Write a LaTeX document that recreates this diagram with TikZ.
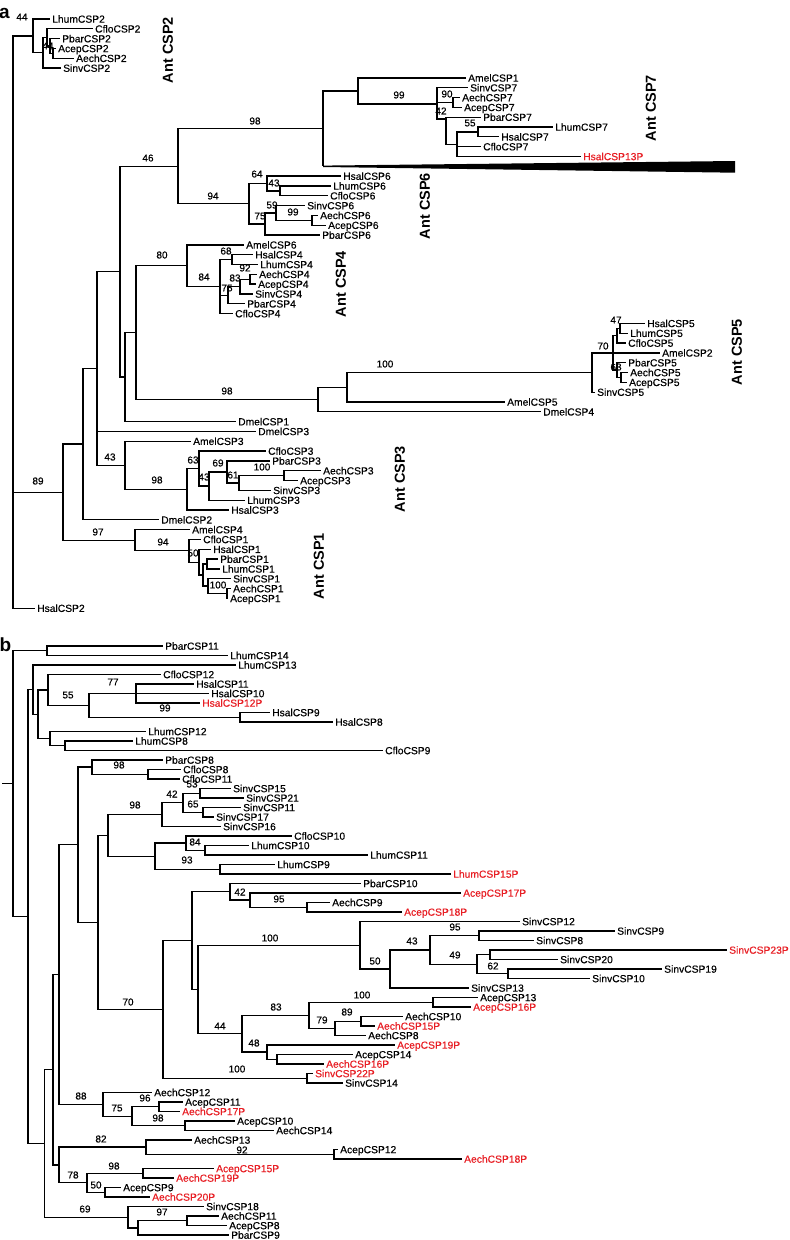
\documentclass[tikz,border=0pt]{standalone}
\usepackage{fontspec}
\newfontfamily\lf{Liberation Sans}
\newfontfamily\lfh[FakeBold=0.35]{Liberation Sans}
\usetikzlibrary{calc}
\definecolor{myred}{RGB}{232,30,36}
\newcommand\yA[1]{19+(#1-1)*9.82}
\newcommand\yB[1]{646+(#1-1)*9.5}
\newcommand\nd[4]{\path ($(#3)!0.5!(#4)$) coordinate (ndm); \path (#2,0) coordinate (ndx); \coordinate (#1) at (ndx |- ndm);}
\newcommand\br[2]{\foreach \chld in {#2}{\draw[brl] (#1) |- (\chld);}}
\begin{document}
\begin{tikzpicture}[x=1pt,y=-1pt,
  lbl/.style={anchor=west,font=\lfh\fontsize{10.3}{11}\selectfont,inner xsep=2pt,inner ysep=0pt,text height=7.4pt,text depth=0pt},
  lblr/.style={lbl,text=myred},
  bsv/.style={font=\lfh\fontsize{10}{11}\selectfont,inner sep=0pt},
  grp/.style={font=\lf\bfseries\fontsize{14.5}{16}\selectfont,rotate=90,inner sep=0pt},
  pan/.style={font=\lf\bfseries\fontsize{19}{20}\selectfont,anchor=base west,inner sep=0pt},
  brl/.style={line width=1.3pt}]
\fill[white] (0,0) rectangle (790,1240);
\useasboundingbox (0,0) rectangle (790,1240);
% ================= PART A =================
\node[pan] (pa) at (-1,18.3) {a};
\node[lbl] (LhumCSP2) at (50,{\yA{1}}) {LhumCSP2};
\node[lbl] (CfloCSP2) at (93,{\yA{2}}) {CfloCSP2};
\node[lbl] (PbarCSP2) at (60,{\yA{3}}) {PbarCSP2};
\node[lbl] (AcepCSP2) at (56,{\yA{4}}) {AcepCSP2};
\node[lbl] (AechCSP2) at (74,{\yA{5}}) {AechCSP2};
\node[lbl] (SinvCSP2) at (61,{\yA{6}}) {SinvCSP2};
\node[lbl] (AmelCSP1) at (466,{\yA{7}}) {AmelCSP1};
\node[lbl] (SinvCSP7) at (468,{\yA{8}}) {SinvCSP7};
\node[lbl] (AechCSP7) at (460,{\yA{9}}) {AechCSP7};
\node[lbl] (AcepCSP7) at (462,{\yA{10}}) {AcepCSP7};
\node[lbl] (PbarCSP7) at (481,{\yA{11}}) {PbarCSP7};
\node[lbl] (LhumCSP7) at (553,{\yA{12}}) {LhumCSP7};
\node[lbl] (HsalCSP7) at (499,{\yA{13}}) {HsalCSP7};
\node[lbl] (CfloCSP7) at (481,{\yA{14}}) {CfloCSP7};
\node[lblr] (HsalCSP13P) at (581,{\yA{15}}) {HsalCSP13P};
\coordinate (wedgeL) at (323,{\yA{16}});
\node[lbl] (HsalCSP6) at (341,{\yA{17}}) {HsalCSP6};
\node[lbl] (LhumCSP6) at (331,{\yA{18}}) {LhumCSP6};
\node[lbl] (CfloCSP6) at (328,{\yA{19}}) {CfloCSP6};
\node[lbl] (SinvCSP6) at (305,{\yA{20}}) {SinvCSP6};
\node[lbl] (AechCSP6) at (318,{\yA{21}}) {AechCSP6};
\node[lbl] (AcepCSP6) at (326,{\yA{22}}) {AcepCSP6};
\node[lbl] (PbarCSP6) at (320,{\yA{23}}) {PbarCSP6};
\node[lbl] (AmelCSP6) at (244,{\yA{24}}) {AmelCSP6};
\node[lbl] (HsalCSP4) at (253,{\yA{25}}) {HsalCSP4};
\node[lbl] (LhumCSP4) at (258,{\yA{26}}) {LhumCSP4};
\node[lbl] (AechCSP4) at (257,{\yA{27}}) {AechCSP4};
\node[lbl] (AcepCSP4) at (256,{\yA{28}}) {AcepCSP4};
\node[lbl] (SinvCSP4) at (253,{\yA{29}}) {SinvCSP4};
\node[lbl] (PbarCSP4) at (245,{\yA{30}}) {PbarCSP4};
\node[lbl] (CfloCSP4) at (233,{\yA{31}}) {CfloCSP4};
\node[lbl] (HsalCSP5) at (645,{\yA{32}}) {HsalCSP5};
\node[lbl] (LhumCSP5) at (628,{\yA{33}}) {LhumCSP5};
\node[lbl] (CfloCSP5) at (626,{\yA{34}}) {CfloCSP5};
\node[lbl] (AmelCSP2) at (660,{\yA{35}}) {AmelCSP2};
\node[lbl] (PbarCSP5) at (626,{\yA{36}}) {PbarCSP5};
\node[lbl] (AechCSP5) at (628,{\yA{37}}) {AechCSP5};
\node[lbl] (AcepCSP5) at (627,{\yA{38}}) {AcepCSP5};
\node[lbl] (SinvCSP5) at (595,{\yA{39}}) {SinvCSP5};
\node[lbl] (AmelCSP5) at (505,{\yA{40}}) {AmelCSP5};
\node[lbl] (DmelCSP4) at (541,{\yA{41}}) {DmelCSP4};
\node[lbl] (DmelCSP1) at (236,{\yA{42}}) {DmelCSP1};
\node[lbl] (DmelCSP3) at (256,{\yA{43}}) {DmelCSP3};
\node[lbl] (AmelCSP3) at (191,{\yA{44}}) {AmelCSP3};
\node[lbl] (CfloCSP3) at (266,{\yA{45}}) {CfloCSP3};
\node[lbl] (PbarCSP3) at (270,{\yA{46}}) {PbarCSP3};
\node[lbl] (AechCSP3) at (321,{\yA{47}}) {AechCSP3};
\node[lbl] (AcepCSP3) at (298,{\yA{48}}) {AcepCSP3};
\node[lbl] (SinvCSP3) at (271,{\yA{49}}) {SinvCSP3};
\node[lbl] (LhumCSP3) at (245,{\yA{50}}) {LhumCSP3};
\node[lbl] (HsalCSP3) at (229,{\yA{51}}) {HsalCSP3};
\node[lbl] (DmelCSP2) at (159,{\yA{52}}) {DmelCSP2};
\node[lbl] (AmelCSP4) at (190,{\yA{53}}) {AmelCSP4};
\node[lbl] (CfloCSP1) at (201,{\yA{54}}) {CfloCSP1};
\node[lbl] (HsalCSP1) at (211,{\yA{55}}) {HsalCSP1};
\node[lbl] (PbarCSP1) at (218,{\yA{56}}) {PbarCSP1};
\node[lbl] (LhumCSP1) at (220,{\yA{57}}) {LhumCSP1};
\node[lbl] (SinvCSP1) at (231,{\yA{58}}) {SinvCSP1};
\node[lbl] (AechCSP1) at (231,{\yA{59}}) {AechCSP1};
\node[lbl] (AcepCSP1) at (228,{\yA{60}}) {AcepCSP1};
\node[lbl] (HsalCSP2) at (35,{\yA{61}}) {HsalCSP2};
% internal nodes, part a
\nd{aC2e}{53}{AcepCSP2}{AechCSP2}
\nd{aC2d}{50}{PbarCSP2}{aC2e}
\nd{aC2c}{47}{CfloCSP2}{aC2d}
\nd{aC2b}{43}{aC2c}{SinvCSP2}
\nd{aC2a}{33}{LhumCSP2}{aC2b}
\nd{aAA}{453}{AechCSP7}{AcepCSP7}
\nd{a55}{478}{LhumCSP7}{HsalCSP7}
\nd{aD}{457}{a55}{HsalCSP13P}
\coordinate (aB) at (446,119);
\coordinate (aC7) at (437,104);
\nd{a99}{358}{AmelCSP1}{aC7}
\nd{a98a}{323}{a99}{wedgeL}
\nd{a43}{280}{LhumCSP6}{CfloCSP6}
\nd{a64}{267}{HsalCSP6}{a43}
\nd{a99c}{312}{AechCSP6}{AcepCSP6}
\nd{a59}{276}{SinvCSP6}{a99c}
\nd{a75}{265}{a59}{PbarCSP6}
\nd{a94}{249}{a64}{a75}
\nd{a46}{178}{a98a}{a94}
\nd{a68}{232}{HsalCSP4}{LhumCSP4}
\nd{a92}{250}{AechCSP4}{AcepCSP4}
\nd{a83}{240}{a92}{SinvCSP4}
\nd{a75b}{228}{a83}{PbarCSP4}
\nd{a84}{220}{a68}{CfloCSP4}
\nd{a80}{187}{AmelCSP6}{a84}
\nd{a47}{620}{HsalCSP5}{LhumCSP5}
\nd{a47a}{617}{a47}{CfloCSP5}
\nd{aAE}{621}{AechCSP5}{AcepCSP5}
\nd{a63}{617}{PbarCSP5}{aAE}
\nd{aU}{613}{a47a}{a63}
\nd{a70}{592}{aU}{SinvCSP5}
\nd{a347}{347}{a70}{AmelCSP5}
\nd{a98b}{318}{a347}{DmelCSP4}
\nd{a136}{136}{a80}{a98b}
\nd{a125}{125}{a136}{DmelCSP1}
\nd{a120}{120}{a46}{a125}
\nd{a100c}{284}{AechCSP3}{AcepCSP3}
\nd{a61}{239}{a100c}{SinvCSP3}
\nd{a69}{227}{PbarCSP3}{a61}
\nd{a43c}{209}{a69}{LhumCSP3}
\nd{a63b}{199}{CfloCSP3}{a43c}
\nd{a98c}{187}{a63b}{HsalCSP3}
\nd{a43d}{125}{AmelCSP3}{a98c}
\nd{a97b}{97}{a120}{a43d}
\nd{a83n}{83}{a97b}{DmelCSP2}
\nd{a100d}{227}{AechCSP1}{AcepCSP1}
\nd{aS}{208}{SinvCSP1}{a100d}
\nd{aPL}{207}{PbarCSP1}{LhumCSP1}
\nd{aR}{203}{aPL}{aS}
\nd{a50}{199}{HsalCSP1}{aR}
\nd{a94b}{189}{CfloCSP1}{a50}
\nd{a97}{135}{AmelCSP4}{a94b}
\nd{a89}{63}{a83n}{a97}
\nd{rootA}{13}{aC2a}{HsalCSP2}
% branches, part a
\br{rootA}{aC2a,a89,HsalCSP2}
\br{aC2a}{LhumCSP2,aC2b}
\br{aC2b}{aC2c,SinvCSP2}
\br{aC2c}{CfloCSP2,aC2d}
\br{aC2d}{PbarCSP2,aC2e}
\br{aC2e}{AcepCSP2,AechCSP2}
\br{a89}{a83n,a97}
\br{a83n}{a97b,DmelCSP2}
\br{a97b}{a120,DmelCSP3,a43d}
\br{a120}{a46,a125}
\br{a46}{a98a,a94}
\br{a98a}{a99,wedgeL}
\br{a99}{AmelCSP1,aC7}
\br{aC7}{SinvCSP7,aAA,aB}
\br{aAA}{AechCSP7,AcepCSP7}
\br{aB}{PbarCSP7,aD}
\br{aD}{a55,CfloCSP7,HsalCSP13P}
\br{a55}{LhumCSP7,HsalCSP7}
\br{a94}{a64,a75}
\br{a64}{HsalCSP6,a43}
\br{a43}{LhumCSP6,CfloCSP6}
\br{a75}{a59,PbarCSP6}
\br{a59}{SinvCSP6,a99c}
\br{a99c}{AechCSP6,AcepCSP6}
\br{a125}{a136,DmelCSP1}
\br{a136}{a80,a98b}
\br{a80}{AmelCSP6,a84}
\br{a84}{a68,a75b,CfloCSP4}
\br{a68}{HsalCSP4,LhumCSP4}
\br{a75b}{a83,PbarCSP4}
\br{a83}{a92,SinvCSP4}
\br{a92}{AechCSP4,AcepCSP4}
\br{a98b}{a347,DmelCSP4}
\br{a347}{a70,AmelCSP5}
\br{a70}{aU,SinvCSP5}
\br{aU}{a47a,AmelCSP2,a63}
\br{a47a}{a47,CfloCSP5}
\br{a47}{HsalCSP5,LhumCSP5}
\br{a63}{PbarCSP5,aAE}
\br{aAE}{AechCSP5,AcepCSP5}
\br{a43d}{AmelCSP3,a98c}
\br{a98c}{a63b,HsalCSP3}
\br{a63b}{CfloCSP3,a43c}
\br{a43c}{a69,LhumCSP3}
\br{a69}{PbarCSP3,a61}
\br{a61}{a100c,SinvCSP3}
\br{a100c}{AechCSP3,AcepCSP3}
\br{a97}{AmelCSP4,a94b}
\br{a94b}{CfloCSP1,a50}
\br{a50}{HsalCSP1,aR}
\br{aR}{aPL,aS}
\br{aPL}{PbarCSP1,LhumCSP1}
\br{aS}{SinvCSP1,a100d}
\br{a100d}{AechCSP1,AcepCSP1}
% wedge
\coordinate (wLT) at (323,165.6);
\coordinate (wRT) at (735,161);
\coordinate (wRB) at (735,172.7);
\coordinate (wLB) at (323,167);
\fill (wLT) -- (wRT) -- (wRB) -- (wLB) -- cycle;
% bootstrap values, part a
\node[bsv] (ba01) at (22,17) {44};
\node[bsv] (ba02) at (48,46) {44};
\node[bsv] (ba03) at (255,121) {98};
\node[bsv] (ba04) at (399,95) {99};
\node[bsv] (ba05) at (447,94) {90};
\node[bsv] (ba06) at (441,111) {42};
\node[bsv] (ba07) at (470,123) {55};
\node[bsv] (ba08) at (148,158) {46};
\node[bsv] (ba09) at (213,196) {94};
\node[bsv] (ba10) at (257,174) {64};
\node[bsv] (ba11) at (274,183) {43};
\node[bsv] (ba12) at (272,205) {59};
\node[bsv] (ba13) at (293,212) {99};
\node[bsv] (ba14) at (260,216) {75};
\node[bsv] (ba15) at (162,255) {80};
\node[bsv] (ba16) at (204,277) {84};
\node[bsv] (ba17) at (226,251) {68};
\node[bsv] (ba18) at (245,268) {92};
\node[bsv] (ba19) at (235,278) {83};
\node[bsv] (ba20) at (227,288) {75};
\node[bsv] (ba21) at (227,391) {98};
\node[bsv] (ba22) at (385,364) {100};
\node[bsv] (ba23) at (603,346) {70};
\node[bsv] (ba24) at (616,320) {47};
\node[bsv] (ba25) at (616,367) {63};
\node[bsv] (ba26) at (110,457) {43};
\node[bsv] (ba27) at (157,480) {98};
\node[bsv] (ba28) at (193,460) {63};
\node[bsv] (ba29) at (218,463) {69};
\node[bsv] (ba30) at (204,477) {43};
\node[bsv] (ba31) at (233,475) {61};
\node[bsv] (ba32) at (262,467) {100};
\node[bsv] (ba33) at (38,481) {89};
\node[bsv] (ba34) at (98,532) {97};
\node[bsv] (ba35) at (163,542) {94};
\node[bsv] (ba36) at (193,553) {50};
\node[bsv] (ba37) at (218,585) {100};
% group labels
\node[grp] (gCSP2) at (168,50) {Ant CSP2};
\node[grp] (gCSP7) at (651,108) {Ant CSP7};
\node[grp] (gCSP6) at (425,206) {Ant CSP6};
\node[grp] (gCSP4) at (341,284) {Ant CSP4};
\node[grp] (gCSP5) at (737,352) {Ant CSP5};
\node[grp] (gCSP3) at (400,479) {Ant CSP3};
\node[grp] (gCSP1) at (319,566) {Ant CSP1};
% ================= PART B =================
\node[pan] (pb) at (-0.5,651.7) {b};
\node[lbl] (PbarCSP11) at (163,{\yB{1}}) {PbarCSP11};
\node[lbl] (LhumCSP14) at (228,{\yB{2}}) {LhumCSP14};
\node[lbl] (LhumCSP13) at (236,{\yB{3}}) {LhumCSP13};
\node[lbl] (CfloCSP12) at (161,{\yB{4}}) {CfloCSP12};
\node[lbl] (HsalCSP11) at (194,{\yB{5}}) {HsalCSP11};
\node[lbl] (HsalCSP10) at (209,{\yB{6}}) {HsalCSP10};
\node[lblr] (HsalCSP12P) at (200,{\yB{7}}) {HsalCSP12P};
\node[lbl] (HsalCSP9) at (270,{\yB{8}}) {HsalCSP9};
\node[lbl] (HsalCSP8) at (333,{\yB{9}}) {HsalCSP8};
\node[lbl] (LhumCSP12) at (146,{\yB{10}}) {LhumCSP12};
\node[lbl] (LhumCSP8) at (133,{\yB{11}}) {LhumCSP8};
\node[lbl] (CfloCSP9) at (383,{\yB{12}}) {CfloCSP9};
\node[lbl] (PbarCSP8) at (163,{\yB{13}}) {PbarCSP8};
\node[lbl] (CfloCSP8) at (181,{\yB{14}}) {CfloCSP8};
\node[lbl] (CfloCSP11) at (180,{\yB{15}}) {CfloCSP11};
\node[lbl] (SinvCSP15) at (231,{\yB{16}}) {SinvCSP15};
\node[lbl] (SinvCSP21) at (244,{\yB{17}}) {SinvCSP21};
\node[lbl] (SinvCSP11) at (241,{\yB{18}}) {SinvCSP11};
\node[lbl] (SinvCSP17) at (214,{\yB{19}}) {SinvCSP17};
\node[lbl] (SinvCSP16) at (221,{\yB{20}}) {SinvCSP16};
\node[lbl] (CfloCSP10) at (292,{\yB{21}}) {CfloCSP10};
\node[lbl] (LhumCSP10) at (249,{\yB{22}}) {LhumCSP10};
\node[lbl] (LhumCSP11) at (368,{\yB{23}}) {LhumCSP11};
\node[lbl] (LhumCSP9) at (275,{\yB{24}}) {LhumCSP9};
\node[lblr] (LhumCSP15P) at (451,{\yB{25}}) {LhumCSP15P};
\node[lbl] (PbarCSP10) at (361,{\yB{26}}) {PbarCSP10};
\node[lblr] (AcepCSP17P) at (461,{\yB{27}}) {AcepCSP17P};
\node[lbl] (AechCSP9) at (330,{\yB{28}}) {AechCSP9};
\node[lblr] (AcepCSP18P) at (402,{\yB{29}}) {AcepCSP18P};
\node[lbl] (SinvCSP12) at (520,{\yB{30}}) {SinvCSP12};
\node[lbl] (SinvCSP9) at (615,{\yB{31}}) {SinvCSP9};
\node[lbl] (SinvCSP8) at (534,{\yB{32}}) {SinvCSP8};
\node[lblr] (SinvCSP23P) at (727,{\yB{33}}) {SinvCSP23P};
\node[lbl] (SinvCSP20) at (558,{\yB{34}}) {SinvCSP20};
\node[lbl] (SinvCSP19) at (662,{\yB{35}}) {SinvCSP19};
\node[lbl] (SinvCSP10) at (590,{\yB{36}}) {SinvCSP10};
\node[lbl] (SinvCSP13) at (469,{\yB{37}}) {SinvCSP13};
\node[lbl] (AcepCSP13) at (478,{\yB{38}}) {AcepCSP13};
\node[lblr] (AcepCSP16P) at (471,{\yB{39}}) {AcepCSP16P};
\node[lbl] (AechCSP10) at (403,{\yB{40}}) {AechCSP10};
\node[lblr] (AechCSP15P) at (375,{\yB{41}}) {AechCSP15P};
\node[lbl] (AechCSP8) at (366,{\yB{42}}) {AechCSP8};
\node[lblr] (AcepCSP19P) at (395,{\yB{43}}) {AcepCSP19P};
\node[lbl] (AcepCSP14) at (353,{\yB{44}}) {AcepCSP14};
\node[lblr] (AechCSP16P) at (324,{\yB{45}}) {AechCSP16P};
\node[lblr] (SinvCSP22P) at (313,{\yB{46}}) {SinvCSP22P};
\node[lbl] (SinvCSP14) at (343,{\yB{47}}) {SinvCSP14};
\node[lbl] (AechCSP12) at (152,{\yB{48}}) {AechCSP12};
\node[lbl] (AcepCSP11) at (183,{\yB{49}}) {AcepCSP11};
\node[lblr] (AechCSP17P) at (180,{\yB{50}}) {AechCSP17P};
\node[lbl] (AcepCSP10) at (235,{\yB{51}}) {AcepCSP10};
\node[lbl] (AechCSP14) at (274,{\yB{52}}) {AechCSP14};
\node[lbl] (AechCSP13) at (192,{\yB{53}}) {AechCSP13};
\node[lbl] (AcepCSP12) at (338,{\yB{54}}) {AcepCSP12};
\node[lblr] (AechCSP18P) at (462,{\yB{55}}) {AechCSP18P};
\node[lblr] (AcepCSP15P) at (214,{\yB{56}}) {AcepCSP15P};
\node[lblr] (AechCSP19P) at (174,{\yB{57}}) {AechCSP19P};
\node[lbl] (AcepCSP9) at (121,{\yB{58}}) {AcepCSP9};
\node[lblr] (AechCSP20P) at (150,{\yB{59}}) {AechCSP20P};
\node[lbl] (SinvCSP18) at (204,{\yB{60}}) {SinvCSP18};
\node[lbl] (AechCSP11) at (219,{\yB{61}}) {AechCSP11};
\node[lbl] (AcepCSP8) at (227,{\yB{62}}) {AcepCSP8};
\node[lbl] (PbarCSP9) at (229,{\yB{63}}) {PbarCSP9};
% internal nodes, part b
\nd{bP11}{47}{PbarCSP11}{LhumCSP14}
\nd{b77}{136}{HsalCSP11}{HsalCSP12P}
\nd{b99}{240}{HsalCSP9}{HsalCSP8}
\nd{b55}{89}{b77}{b99}
\nd{bC12}{48}{CfloCSP12}{b55}
\nd{bL8}{65}{LhumCSP8}{CfloCSP9}
\nd{bL12}{50}{LhumCSP12}{bL8}
\nd{bX}{38}{bC12}{bL12}
\nd{b33}{33}{LhumCSP13}{bX}
\nd{bC8}{148}{CfloCSP8}{CfloCSP11}
\nd{b98p}{92}{PbarCSP8}{bC8}
\nd{b53s}{200}{SinvCSP15}{SinvCSP21}
\nd{b65}{203}{SinvCSP11}{SinvCSP17}
\nd{bSv}{183}{b53s}{b65}
\nd{b42s}{162}{bSv}{SinvCSP16}
\nd{bL10}{205}{LhumCSP10}{LhumCSP11}
\nd{b84}{186}{CfloCSP10}{bL10}
\nd{bL9}{220}{LhumCSP9}{LhumCSP15P}
\nd{b93}{155}{b84}{bL9}
\nd{b98s}{108}{b42s}{b93}
\nd{bAE9}{307}{AechCSP9}{AcepCSP18P}
\nd{b95}{250}{AcepCSP17P}{bAE9}
\nd{b42}{230}{PbarCSP10}{b95}
\nd{b95s}{479}{SinvCSP9}{SinvCSP8}
\nd{b23}{490}{SinvCSP23P}{SinvCSP20}
\nd{b19}{508}{SinvCSP19}{SinvCSP10}
\nd{b49}{477}{b23}{b19}
\nd{b43s}{430}{b95s}{b49}
\nd{b50}{390}{b43s}{SinvCSP13}
\nd{b100f}{360}{SinvCSP12}{b50}
\nd{b100g}{433}{AcepCSP13}{AcepCSP16P}
\nd{b89}{361}{AechCSP10}{AechCSP15P}
\nd{b79}{335}{b89}{AechCSP8}
\nd{b83}{309}{b100g}{b79}
\nd{bA14}{277}{AcepCSP14}{AechCSP16P}
\nd{b48}{267}{AcepCSP19P}{bA14}
\nd{b44c}{242}{b83}{b48}
\nd{b198}{198}{b100f}{b44c}
\nd{b194}{192}{b42}{b198}
\nd{b100e}{307}{SinvCSP22P}{SinvCSP14}
\nd{b70}{163}{b194}{b100e}
\nd{b98x}{98}{b98s}{b70}
\nd{b78big}{78}{b98p}{b98x}
\nd{b96}{159}{AcepCSP11}{AechCSP17P}
\nd{b98y}{185}{AcepCSP10}{AechCSP14}
\nd{b75}{132}{b96}{b98y}
\nd{b88}{103}{AechCSP12}{b75}
\nd{bA}{59}{b78big}{b88}
\nd{b92}{334}{AcepCSP12}{AechCSP18P}
\nd{b82}{146}{AechCSP13}{b92}
\nd{b98z}{143}{AcepCSP15P}{AechCSP19P}
\nd{b50b}{105}{AcepCSP9}{AechCSP20P}
\nd{b78}{87}{b98z}{b50b}
\nd{b59}{59}{b82}{b78}
\nd{b53}{53}{bA}{b59}
\nd{b97}{187}{AechCSP11}{AcepCSP8}
\nd{bB}{138}{b97}{PbarCSP9}
\nd{b69}{128}{SinvCSP18}{bB}
\nd{b44}{44.5}{b53}{b69}
\nd{bRest}{28}{b33}{b44}
\nd{rootB}{13}{bP11}{bRest}
\path (2,0) coordinate (stemx);
\coordinate (stemB) at (stemx |- rootB);
% branches, part b
\draw[brl] (stemB) -- (rootB);
\br{rootB}{bP11,bRest}
\br{bP11}{PbarCSP11,LhumCSP14}
\br{bRest}{b33,b44}
\br{b33}{LhumCSP13,bX}
\br{bX}{bC12,bL12}
\br{bC12}{CfloCSP12,b55}
\br{b55}{b77,b99}
\br{b77}{HsalCSP11,HsalCSP10,HsalCSP12P}
\br{b99}{HsalCSP9,HsalCSP8}
\br{bL12}{LhumCSP12,bL8}
\br{bL8}{LhumCSP8,CfloCSP9}
\br{b44}{b53,b69}
\br{b53}{bA,b59}
\br{bA}{b78big,b88}
\br{b78big}{b98p,b98x}
\br{b98p}{PbarCSP8,bC8}
\br{bC8}{CfloCSP8,CfloCSP11}
\br{b98x}{b98s,b70}
\br{b98s}{b42s,b93}
\br{b42s}{bSv,SinvCSP16}
\br{bSv}{b53s,b65}
\br{b53s}{SinvCSP15,SinvCSP21}
\br{b65}{SinvCSP11,SinvCSP17}
\br{b93}{b84,bL9}
\br{b84}{CfloCSP10,bL10}
\br{bL10}{LhumCSP10,LhumCSP11}
\br{bL9}{LhumCSP9,LhumCSP15P}
\br{b70}{b194,b100e}
\br{b194}{b42,b198}
\br{b42}{PbarCSP10,b95}
\br{b95}{AcepCSP17P,bAE9}
\br{bAE9}{AechCSP9,AcepCSP18P}
\br{b198}{b100f,b44c}
\br{b100f}{SinvCSP12,b50}
\br{b50}{b43s,SinvCSP13}
\br{b43s}{b95s,b49}
\br{b95s}{SinvCSP9,SinvCSP8}
\br{b49}{b23,b19}
\br{b23}{SinvCSP23P,SinvCSP20}
\br{b19}{SinvCSP19,SinvCSP10}
\br{b44c}{b83,b48}
\br{b83}{b100g,b79}
\br{b100g}{AcepCSP13,AcepCSP16P}
\br{b79}{b89,AechCSP8}
\br{b89}{AechCSP10,AechCSP15P}
\br{b48}{AcepCSP19P,bA14}
\br{bA14}{AcepCSP14,AechCSP16P}
\br{b100e}{SinvCSP22P,SinvCSP14}
\br{b88}{AechCSP12,b75}
\br{b75}{b96,b98y}
\br{b96}{AcepCSP11,AechCSP17P}
\br{b98y}{AcepCSP10,AechCSP14}
\br{b59}{b82,b78}
\br{b82}{AechCSP13,b92}
\br{b92}{AcepCSP12,AechCSP18P}
\br{b78}{b98z,b50b}
\br{b98z}{AcepCSP15P,AechCSP19P}
\br{b50b}{AcepCSP9,AechCSP20P}
\br{b69}{SinvCSP18,bB}
\br{bB}{b97,PbarCSP9}
\br{b97}{AechCSP11,AcepCSP8}
% bootstrap values, part b
\node[bsv] (bb01) at (113,682) {77};
\node[bsv] (bb02) at (68,695) {55};
\node[bsv] (bb03) at (165,708) {99};
\node[bsv] (bb04) at (119,765) {98};
\node[bsv] (bb05) at (192,784) {53};
\node[bsv] (bb06) at (172,794) {42};
\node[bsv] (bb07) at (193,804) {65};
\node[bsv] (bb08) at (135,805) {98};
\node[bsv] (bb09) at (195,842) {84};
\node[bsv] (bb10) at (187,860) {93};
\node[bsv] (bb11) at (240,892) {42};
\node[bsv] (bb12) at (279,899) {95};
\node[bsv] (bb13) at (270,938) {100};
\node[bsv] (bb14) at (412,941) {43};
\node[bsv] (bb15) at (455,927) {95};
\node[bsv] (bb16) at (375,961) {50};
\node[bsv] (bb17) at (455,955) {49};
\node[bsv] (bb18) at (493,966) {62};
\node[bsv] (bb19) at (362,995) {100};
\node[bsv] (bb20) at (276,1007) {83};
\node[bsv] (bb21) at (347,1012) {89};
\node[bsv] (bb22) at (322,1020) {79};
\node[bsv] (bb23) at (220,1026) {44};
\node[bsv] (bb24) at (254,1043) {48};
\node[bsv] (bb25) at (237,1069) {100};
\node[bsv] (bb26) at (128,1002) {70};
\node[bsv] (bb27) at (81,1096) {88};
\node[bsv] (bb28) at (145,1098) {96};
\node[bsv] (bb29) at (117,1108) {75};
\node[bsv] (bb30) at (158,1118) {98};
\node[bsv] (bb31) at (101,1139) {82};
\node[bsv] (bb32) at (242,1150) {92};
\node[bsv] (bb33) at (114,1166) {98};
\node[bsv] (bb34) at (73,1175) {78};
\node[bsv] (bb35) at (96,1185) {50};
\node[bsv] (bb36) at (85,1209) {69};
\node[bsv] (bb37) at (162,1212) {97};
\end{tikzpicture}
\end{document}
